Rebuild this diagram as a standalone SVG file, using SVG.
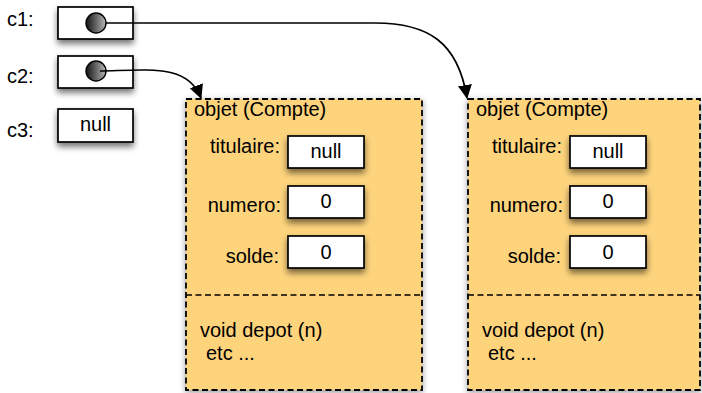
<svg xmlns="http://www.w3.org/2000/svg" width="702" height="393" viewBox="0 0 702 393">
<style>
text{font-family:"Liberation Sans",Arial,sans-serif;font-size:20px;fill:#000}
.box{fill:#fff;stroke:#000;stroke-width:1.7}
.obj{fill:#FDD37B;stroke:#000;stroke-width:1.8;stroke-dasharray:6 3.5}
.div{fill:none;stroke:#000;stroke-width:1.6;stroke-dasharray:6 3.5}
.lbl{text-anchor:end}
.val{text-anchor:middle}
.conn{fill:none;stroke:#000;stroke-width:1.7}
</style>
<defs>
<filter id="sh" x="-20%" y="-20%" width="140%" height="160%">
<feGaussianBlur in="SourceAlpha" stdDeviation="3"/>
<feOffset dx="0" dy="4" result="b"/>
<feComponentTransfer><feFuncA type="linear" slope="0.55"/></feComponentTransfer>
<feMerge><feMergeNode/><feMergeNode in="SourceGraphic"/></feMerge>
</filter>
<filter id="shobj" x="-10%" y="-10%" width="120%" height="120%">
<feGaussianBlur in="SourceAlpha" stdDeviation="3"/>
<feOffset dx="0" dy="2" result="b"/>
<feComponentTransfer><feFuncA type="linear" slope="0.4"/></feComponentTransfer>
<feMerge><feMergeNode/><feMergeNode in="SourceGraphic"/></feMerge>
</filter>
<linearGradient id="ball" x1="0" y1="0" x2="1" y2="0">
<stop offset="0" stop-color="#111"/>
<stop offset="1" stop-color="#b8b8b8"/>
</linearGradient>
<marker id="ah" viewBox="0 0 14 14" refX="13" refY="7" markerWidth="14" markerHeight="14" markerUnits="userSpaceOnUse" orient="auto">
<path d="M0,0 L14,7 L0,14 Z" fill="#000"/>
</marker>
</defs>

<g id="c1">
<text x="7" y="26">c1:</text>
<rect class="box" x="58" y="7" width="75" height="32" filter="url(#sh)"/>
<circle cx="96" cy="23" r="10" fill="url(#ball)" stroke="#000" stroke-width="1.4"/>
</g>
<g id="c2">
<text x="7" y="83">c2:</text>
<rect class="box" x="58" y="56" width="75" height="32" filter="url(#sh)"/>
<circle cx="96" cy="71" r="10" fill="url(#ball)" stroke="#000" stroke-width="1.4"/>
</g>
<g id="c3">
<text x="7" y="137">c3:</text>
<rect class="box" x="58" y="109" width="75" height="33" filter="url(#sh)"/>
<text class="val" x="95.5" y="131">null</text>
</g>

<g id="obj1">
<rect class="obj" x="186" y="99" width="236" height="291" filter="url(#shobj)"/>
<line class="div" x1="186" y1="295" x2="422" y2="295"/>
<text x="194" y="116">objet (Compte)</text>
<text class="lbl" x="280" y="153">titulaire:</text>
<rect class="box" x="288" y="136" width="76" height="32" filter="url(#sh)"/>
<text class="val" x="326" y="158">null</text>
<text class="lbl" x="281" y="212">numero:</text>
<rect class="box" x="288" y="186" width="76" height="32" filter="url(#sh)"/>
<text class="val" x="326" y="208">0</text>
<text class="lbl" x="279" y="263">solde:</text>
<rect class="box" x="288" y="236" width="76" height="32" filter="url(#sh)"/>
<text class="val" x="326" y="259">0</text>
<text x="200" y="337">void depot (n)</text>
<text x="206" y="360">etc ...</text>
</g>

<g id="obj2">
<rect class="obj" x="468" y="99" width="232" height="291" filter="url(#shobj)"/>
<line class="div" x1="468" y1="295" x2="700" y2="295"/>
<text x="476" y="116">objet (Compte)</text>
<text class="lbl" x="562" y="153">titulaire:</text>
<rect class="box" x="570" y="136" width="76" height="32" filter="url(#sh)"/>
<text class="val" x="608" y="158">null</text>
<text class="lbl" x="563" y="212">numero:</text>
<rect class="box" x="570" y="186" width="76" height="32" filter="url(#sh)"/>
<text class="val" x="608" y="208">0</text>
<text class="lbl" x="561" y="263">solde:</text>
<rect class="box" x="570" y="236" width="76" height="32" filter="url(#sh)"/>
<text class="val" x="608" y="259">0</text>
<text x="482" y="337">void depot (n)</text>
<text x="488" y="360">etc ...</text>
</g>

<g id="connectors">
<path class="conn" d="M106,23 H375 C428,23 458,42 467,98" marker-end="url(#ah)"/>
<path class="conn" d="M100,71 C150,70 188,64 201,98" marker-end="url(#ah)"/>
</g>
</svg>
